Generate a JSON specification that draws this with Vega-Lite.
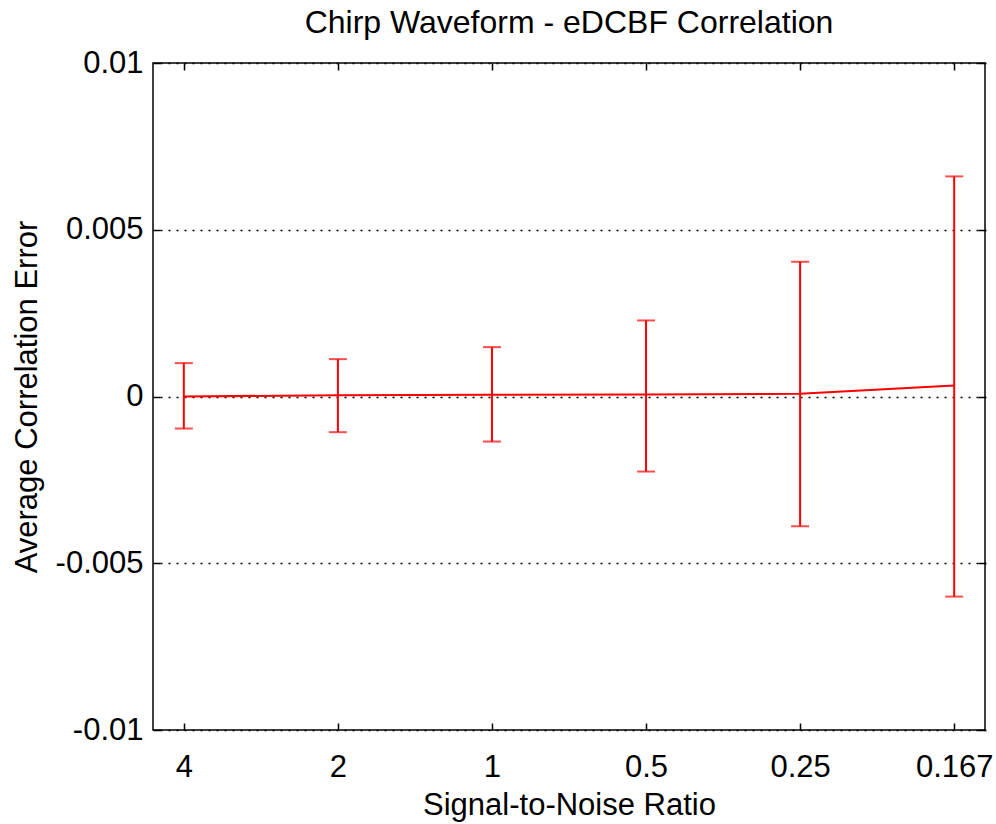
{
  "$schema": "https://vega.github.io/schema/vega-lite/v6.json",
  "width": 832,
  "height": 667,
  "autosize": {"type": "none"},
  "padding": {"left": 153, "top": 63, "right": 11, "bottom": 94},
  "background": "white",
  "title": {"text": "Chirp Waveform - eDCBF Correlation", "font": "Liberation Sans", "fontSize": 32, "fontWeight": "normal", "color": "#000", "anchor": "middle", "offset": 7},
  "config": {
    "view": {"stroke": "#000", "strokeWidth": 1.5},
    "font": "Liberation Sans",
    "axis": {
      "labelFont": "Liberation Sans", "labelFontSize": 31, "labelColor": "#000",
      "titleFont": "Liberation Sans", "titleFontSize": 31, "titleFontWeight": "normal", "titleColor": "#000",
      "tickColor": "#000", "tickWidth": 1.5, "tickSize": 7, "offset": -7, "domain": false
    }
  },
  "data": {"values": [
    {"idx": 1, "snr": "4", "mean": 0.0, "lo": -0.00096, "hi": 0.001},
    {"idx": 2, "snr": "2", "mean": 0.00004, "lo": -0.00107, "hi": 0.00112},
    {"idx": 3, "snr": "1", "mean": 0.00005, "lo": -0.00135, "hi": 0.00148},
    {"idx": 4, "snr": "0.5", "mean": 0.00006, "lo": -0.00225, "hi": 0.00228},
    {"idx": 5, "snr": "0.25", "mean": 0.00008, "lo": -0.00389, "hi": 0.00404},
    {"idx": 6, "snr": "0.167", "mean": 0.00033, "lo": -0.006, "hi": 0.0066}
  ]},
  "layer": [
    {
      "mark": {"type": "rule", "color": "#ff0000", "strokeWidth": 2},
      "encoding": {
        "x": {"field": "idx", "type": "quantitative", "scale": {"domain": [0.8, 6.2], "nice": false, "zero": false},
          "axis": {"orient": "bottom", "values": [1, 2, 3, 4, 5, 6], "labelExpr": "['4','2','1','0.5','0.25','0.167'][datum.value-1]", "title": "Signal-to-Noise Ratio", "grid": false, "labelPadding": 22, "titlePadding": 8}},
        "y": {"field": "lo", "type": "quantitative", "scale": {"domain": [-0.01, 0.01], "nice": false},
          "axis": {"orient": "left", "values": [-0.01, -0.005, 0, 0.005, 0.01], "labelExpr": "toString(datum.value)", "title": "Average Correlation Error", "grid": true, "gridColor": "#000", "gridDash": [2, 6], "gridWidth": 1.5, "labelPadding": 10, "titlePadding": 12}},
        "y2": {"field": "hi"}
      }
    },
    {
      "mark": {"type": "tick", "orient": "horizontal", "color": "#ff0000", "size": 18, "thickness": 2},
      "encoding": {
        "x": {"field": "idx", "type": "quantitative", "axis": {"orient": "top", "values": [1, 2, 3, 4, 5, 6], "labels": false, "title": null, "grid": false}},
        "y": {"field": "lo", "type": "quantitative", "axis": {"orient": "right", "values": [-0.01, -0.005, 0, 0.005, 0.01], "labels": false, "title": null, "grid": false}}
      }
    },
    {
      "mark": {"type": "tick", "orient": "horizontal", "color": "#ff0000", "size": 18, "thickness": 2},
      "encoding": {
        "x": {"field": "idx", "type": "quantitative", "axis": null},
        "y": {"field": "hi", "type": "quantitative", "axis": null}
      }
    },
    {
      "mark": {"type": "line", "color": "#ff0000", "strokeWidth": 2},
      "encoding": {
        "x": {"field": "idx", "type": "quantitative", "axis": null},
        "y": {"field": "mean", "type": "quantitative", "axis": null}
      }
    }
  ],
  "resolve": {"axis": {"x": "independent", "y": "independent"}}
}
